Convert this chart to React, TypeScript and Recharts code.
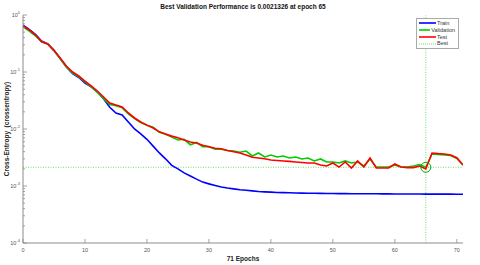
import { ComposedChart, Line, XAxis, YAxis, ReferenceLine, ReferenceDot } from 'recharts';

const EPOCHS = [
  0, 1, 2, 3, 4, 5, 6, 7, 8, 9, 10, 11, 12, 13, 14, 15, 16, 17, 18, 19, 20, 21, 22, 23, 24, 25, 26, 27, 28, 29, 30, 31, 32, 33, 34, 35,
  36, 37, 38, 39, 40, 41, 42, 43, 44, 45, 46, 47, 48, 49, 50, 51, 52, 53, 54, 55, 56, 57, 58, 59, 60, 61, 62, 63, 64, 65, 66, 67, 68, 69, 70, 71,
];

const TRAIN = [
  0.66, 0.56, 0.46, 0.35, 0.31, 0.24, 0.172, 0.122, 0.094, 0.08, 0.064, 0.055, 0.045, 0.034, 0.024, 0.019, 0.0177, 0.0133, 0.01, 0.0082,
  0.0066, 0.005, 0.0038, 0.003, 0.0023, 0.002, 0.0017, 0.0015, 0.00132, 0.00117, 0.00109, 0.00102, 0.00096, 0.00092, 0.00089, 0.00086,
  0.00084, 0.00082, 0.0008, 0.00079, 0.00078, 0.00077, 0.000765, 0.00076, 0.000755, 0.00075, 0.000748, 0.000745, 0.000743, 0.00074,
  0.000738, 0.000736, 0.000734, 0.000733, 0.000732, 0.000731, 0.00073, 0.000729, 0.000728, 0.000727, 0.000726, 0.000725, 0.000724,
  0.000723, 0.000722, 0.000721, 0.00072, 0.00072, 0.000719, 0.000719, 0.000718, 0.000718,
];

const VALIDATION = [
  0.62, 0.52, 0.43, 0.34, 0.31, 0.235, 0.17, 0.122, 0.096, 0.082, 0.067, 0.055, 0.044, 0.034, 0.027, 0.0255, 0.0235, 0.0185, 0.0152, 0.013,
  0.0116, 0.0107, 0.0088, 0.0081, 0.0072, 0.0064, 0.0066, 0.0053, 0.0058, 0.0049, 0.0049, 0.0044, 0.0044, 0.0042, 0.0041, 0.0039,
  0.0041, 0.00336, 0.00379, 0.00323, 0.0035, 0.00323, 0.00336, 0.0031, 0.00323, 0.00298, 0.0031, 0.00275, 0.00298, 0.00264,
  0.00264, 0.00253, 0.00275, 0.00253, 0.00264, 0.00224, 0.00298, 0.00215, 0.00215, 0.00215, 0.00233, 0.00215, 0.00215,
  0.00224, 0.00238, 0.0021326, 0.00364, 0.00357, 0.0035, 0.00343, 0.00304, 0.00233,
];

const TEST = [
  0.64, 0.55, 0.45, 0.34, 0.31, 0.24, 0.176, 0.127, 0.1, 0.085, 0.0695, 0.057, 0.0464, 0.0364, 0.0286, 0.0264, 0.0243, 0.0191, 0.0156, 0.0133,
  0.0117, 0.0104, 0.0089, 0.0082, 0.0075, 0.007, 0.0064, 0.0059, 0.0057, 0.0052, 0.0049, 0.0046, 0.0045, 0.0042, 0.004, 0.0038,
  0.0035, 0.0032, 0.0031, 0.003, 0.00286, 0.0028, 0.00275, 0.0027, 0.00264, 0.00258, 0.00253, 0.00253, 0.00233, 0.00224,
  0.00253, 0.00215, 0.00264, 0.00207, 0.00275, 0.00215, 0.0031, 0.00207, 0.00207, 0.00207, 0.00243, 0.00215, 0.0021,
  0.0021, 0.00224, 0.00199, 0.00379, 0.0037, 0.00364, 0.0035, 0.00313, 0.00233,
];

const BEST_EPOCH = 65;
const BEST_VALUE = 0.0021326;

const X_TICKS = [0, 10, 20, 30, 40, 50, 60, 70];
const Y_MAJOR = [0.0001, 0.001, 0.01, 0.1, 1];
const Y_EXP = ['-4', '-3', '-2', '-1', '0'];
const Y_TICKS = [
  0.0001, 0.0002, 0.0003, 0.0004, 0.0005, 0.0006, 0.0007, 0.0008, 0.0009,
  0.001, 0.002, 0.003, 0.004, 0.005, 0.006, 0.007, 0.008, 0.009,
  0.01, 0.02, 0.03, 0.04, 0.05, 0.06, 0.07, 0.08, 0.09,
  0.1, 0.2, 0.3, 0.4, 0.5, 0.6, 0.7, 0.8, 0.9, 1,
];

const LEGEND_ITEMS = [
  { label: 'Train', color: '#0000ff', dotted: false },
  { label: 'Validation', color: '#00cc00', dotted: false },
  { label: 'Test', color: '#ff0000', dotted: false },
  { label: 'Best', color: '#00cc00', dotted: true },
];

const AXIS = '#8c8c8c';
const FONT = '"Liberation Sans", Arial, sans-serif';

const chartData = EPOCHS.map((e, i) => ({
  epoch: e,
  train: TRAIN[i],
  validation: VALIDATION[i],
  test: TEST[i],
}));

function XTick({ x, y, payload }: any) {
  return (
    <g>
      <line x1={x} y1={y} x2={x} y2={y - 4} stroke={AXIS} strokeWidth={0.8} />
      <text x={x} y={y + 9} textAnchor="middle" fontSize={5.5} fill="#555" fontFamily={FONT}>
        {payload.value}
      </text>
    </g>
  );
}

function YTick({ x, y, payload }: any) {
  const idx = Y_MAJOR.findIndex((v) => Math.abs(v - payload.value) < payload.value * 1e-6);
  const major = idx >= 0;
  return (
    <g>
      <line x1={x} y1={y} x2={x + (major ? 4 : 2)} y2={y} stroke={AXIS} strokeWidth={0.8} />
      {major && (
        <text x={x - 3} y={y + 2} textAnchor="end" fontSize={5.5} fill="#555" fontFamily={FONT}>
          10
          <tspan dy={-3} fontSize={4}>
            {Y_EXP[idx]}
          </tspan>
        </text>
      )}
    </g>
  );
}

function LegendBox() {
  return (
    <div
      style={{
        position: 'absolute',
        left: 416,
        top: 18,
        border: '1px solid #aaa',
        background: '#fff',
        padding: '1px 3px 1px 2px',
        fontFamily: FONT,
        fontSize: 5.5,
        lineHeight: '6.8px',
        color: '#333',
        width: 36,
      }}
    >
      {LEGEND_ITEMS.map((it) => (
        <div key={it.label} style={{ display: 'flex', alignItems: 'center' }}>
          <svg width={17} height={6} style={{ marginRight: 1 }}>
            <line
              x1={0}
              y1={3}
              x2={17}
              y2={3}
              stroke={it.color}
              strokeWidth={it.dotted ? 0.6 : 1.6}
              strokeDasharray={it.dotted ? '1 1' : undefined}
            />
          </svg>
          <span>{it.label}</span>
        </div>
      ))}
    </div>
  );
}

export default function App() {
  return (
    <div style={{ position: 'absolute', left: 0, top: 0, width: 480, height: 265, background: '#fff' }}>
      <ComposedChart width={480} height={265} data={chartData} margin={{ top: 15, right: 17, bottom: 0, left: 0 }}>
        <XAxis
          dataKey="epoch"
          type="number"
          domain={[0, 71]}
          ticks={X_TICKS}
          height={22}
          stroke={AXIS}
          tickLine={false}
          tickSize={0}
          tickMargin={0}
          tick={<XTick />}
          interval={0}
          allowDataOverflow
        />
        <YAxis
          scale="log"
          domain={[0.0001, 1]}
          ticks={Y_TICKS}
          width={23}
          stroke={AXIS}
          tickLine={false}
          tickSize={0}
          tickMargin={0}
          tick={<YTick />}
          interval={0}
          allowDataOverflow
        />
        <ReferenceLine y={BEST_VALUE} stroke="#00cc00" strokeWidth={0.6} strokeDasharray="1 1.5" />
        <ReferenceLine x={BEST_EPOCH} stroke="#00cc00" strokeWidth={0.6} strokeDasharray="1 1.5" />
        <Line dataKey="train" stroke="#0000ff" strokeWidth={1.6} dot={false} isAnimationActive={false} />
        <Line dataKey="validation" stroke="#00cc00" strokeWidth={1.6} dot={false} isAnimationActive={false} />
        <Line dataKey="test" stroke="#ff0000" strokeWidth={1.6} dot={false} isAnimationActive={false} />
        <ReferenceDot x={BEST_EPOCH} y={BEST_VALUE} r={5} fill="none" stroke="#00aa00" strokeWidth={1} />
      </ComposedChart>
      <LegendBox />
      <div
        style={{
          position: 'absolute',
          left: 0,
          top: 3,
          width: 486,
          textAlign: 'center',
          fontFamily: FONT,
          fontSize: 6.5,
          fontWeight: 'bold',
          color: '#111',
        }}
      >
        Best Validation Performance is 0.0021326 at epoch 65
      </div>
      <div
        style={{
          position: 'absolute',
          left: 23,
          top: 255,
          width: 440,
          textAlign: 'center',
          fontFamily: FONT,
          fontSize: 6.5,
          fontWeight: 'bold',
          color: '#222',
        }}
      >
        71 Epochs
      </div>
      <div
        style={{
          position: 'absolute',
          left: 6,
          top: 129,
          transform: 'translate(-50%, -50%) rotate(-90deg)',
          whiteSpace: 'nowrap',
          fontFamily: FONT,
          fontSize: 6.5,
          fontWeight: 'bold',
          color: '#222',
        }}
      >
        Cross-Entropy&nbsp;&nbsp;(crossentropy)
      </div>
    </div>
  );
}
